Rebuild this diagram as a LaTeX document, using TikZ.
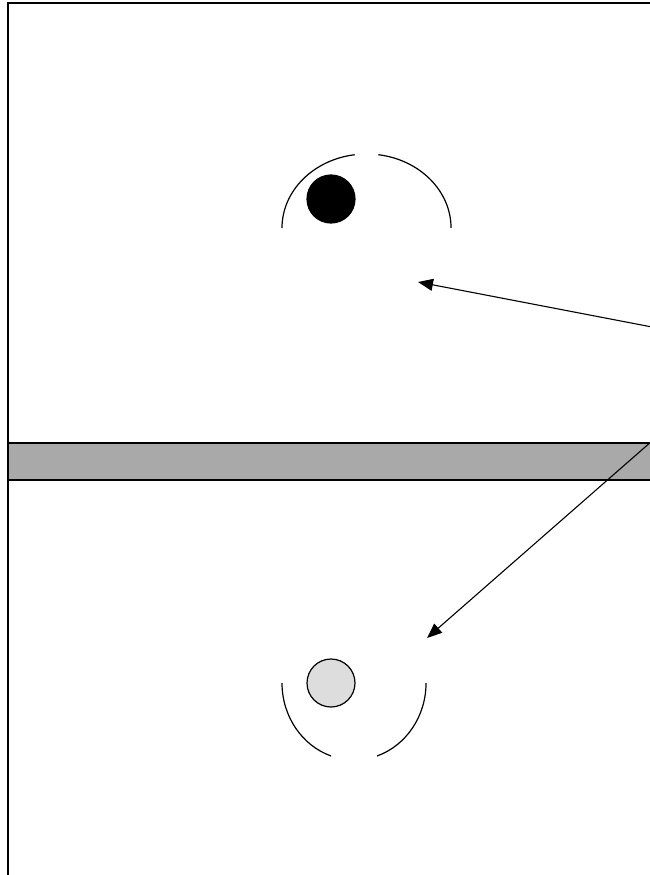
\documentclass[tikz,border=0pt]{standalone}
\usepackage{tikz}
\usetikzlibrary{arrows.meta}
\definecolor{bandgray}{HTML}{A9A9A9}
\definecolor{ballgray}{HTML}{DDDDDD}

\begin{document}
\begin{tikzpicture}[x=1pt,y=1pt,
  ball/.style={circle,draw=black,line width=1.2pt,minimum size=48pt,inner sep=0pt},
  pointer/.style={line width=1.1pt,-{Triangle[length=15pt,width=12pt]}}]
\useasboundingbox (0,0) rectangle (650,-875);
\clip (0,0) rectangle (650,-875);
\fill[white] (0,0) rectangle (650,-875);
\draw[line width=1.5pt] (8,-900) -- (8,-3) -- (660,-3);
\draw[line width=1.5pt,fill=bandgray] (8,-443) rectangle (660,-480);
\draw[line width=1.2pt] (282,-228) arc[start angle=180,end angle=98,x radius=84.5,y radius=74];
\draw[line width=1.2pt] (378.3,-154.7) arc[start angle=82,end angle=0,x radius=84.5,y radius=74];
\draw[line width=1.2pt] (282,-683) arc[start angle=180,end angle=251.4,x radius=72,y radius=77];
\draw[line width=1.2pt] (377,-756) arc[start angle=288.6,end angle=360,x radius=72,y radius=77];
\node[ball,fill=black] (blackball) at (331,-199) {};
\node[ball,fill=ballgray] (grayball) at (331,-683) {};
\coordinate (upperstart) at (652,-327);
\coordinate (upperend) at (418,-282);
\coordinate (lowerstart) at (652,-441);
\coordinate (lowerend) at (427,-638);
\draw[pointer] (upperstart) -- (upperend);
\draw[pointer] (lowerstart) -- (lowerend);
\end{tikzpicture}
\end{document}
